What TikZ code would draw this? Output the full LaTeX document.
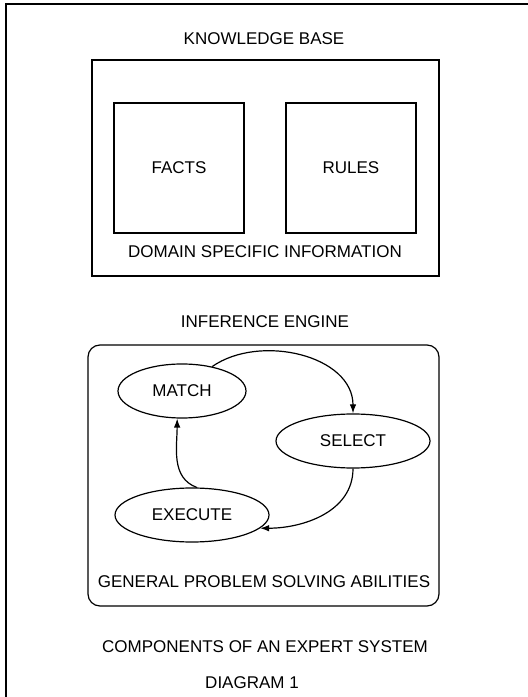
\documentclass[tikz,border=0pt]{standalone}
\usepackage{fontspec}
\setmainfont{Liberation Sans}
\usetikzlibrary{arrows.meta,shapes.geometric}

\begin{document}
\begin{tikzpicture}[x=1pt,y=1pt,line width=1.2pt,
        every node/.style={font=\fontsize{17}{20}\selectfont},
        blockbox/.style={draw,minimum width=130pt,minimum height=130pt},
        oval/.style={draw,ellipse,minimum height=54pt,inner sep=0pt},
        flow/.style={-{Latex[length=9pt,width=6.5pt]}}]
        \useasboundingbox (0,0) rectangle (528,697);

        % frame of the page
        \draw[line width=1.3pt] (6,0) -- (6,693) -- (528,693);

        % knowledge base
        \node (kbtitle) at (264,658) {KNOWLEDGE BASE};
        \draw (92,421) rectangle (439,637);
        \node[blockbox] (facts) at (179,529) {FACTS};
        \node[blockbox] (rules) at (351,529) {RULES};
        \node (domain) at (265,445) {DOMAIN SPECIFIC INFORMATION};

        % inference engine
        \node (ietitle) at (265,375) {INFERENCE ENGINE};
        \draw[rounded corners=12pt] (88,91) rectangle (439,352);
        \node[oval,minimum width=128pt] (match)   at (182,306) {MATCH};
        \node[oval,minimum width=154pt] (select)  at (353,256) {SELECT};
        \node[oval,minimum width=154pt] (execute) at (192,182) {EXECUTE};
        \node (general) at (264,115) {GENERAL PROBLEM SOLVING ABILITIES};

        \draw[flow] (match.39)   to[out=35,in=90]   (select.north);
        \draw[flow] (select.south) to[out=-90,in=0] (execute.-11);
        \draw[flow] (execute.80) to[out=160,in=-90] (match.-100);

        % caption
        \node (caption) at (265,50) {COMPONENTS OF AN EXPERT SYSTEM};
        \node (diagram) at (252,14) {DIAGRAM 1};
    \end{tikzpicture}
\end{document}
